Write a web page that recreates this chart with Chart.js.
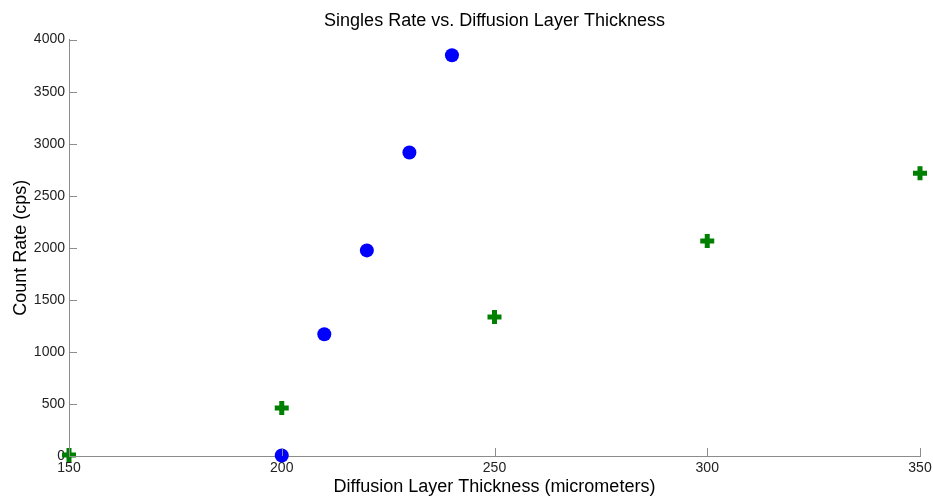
<!DOCTYPE html>
<html>
<head>
<meta charset="UTF-8" />
<title>Singles Rate vs. Diffusion Layer Thickness</title>
<script src="https://cdn.jsdelivr.net/npm/chart.js"></script>
<style>
  html, body { margin: 0; padding: 0; background: #fff; }
  #wrap { width: 933px; height: 496px; }
</style>
</head>
<body>
<div id="wrap"><canvas id="chart" width="933" height="496"></canvas></div>
<script>
// series
var circleX = [200, 210, 220, 230, 240];
var circleY = [5, 1170, 1975, 2915, 3850];
var plusX = [150, 200, 250, 300, 350];
var plusY = [10, 460, 1335, 2065, 2715];

var xTicks = [150, 200, 250, 300, 350];
var yTicks = [0, 500, 1000, 1500, 2000, 2500, 3000, 3500, 4000];

var FONT = "Arial, 'Liberation Sans', Helvetica, sans-serif";
var AXIS = "#8c8c8c";

function toPoints(xs, ys) {
  return xs.map(function (x, i) { return { x: x, y: ys[i] }; });
}

// short tick marks drawn inward, like the original plot
var innerTicks = {
  id: "innerTicks",
  afterDatasetsDraw: function (chart) {
    var ctx = chart.ctx, a = chart.chartArea;
    var xs = chart.scales.x, ys = chart.scales.y;
    ctx.save();
    ctx.strokeStyle = AXIS;
    ctx.lineWidth = 1;
    ctx.beginPath();
    xTicks.forEach(function (v) {
      var px = Math.round(xs.getPixelForValue(v)) + 0.5;
      ctx.moveTo(px, a.bottom);
      ctx.lineTo(px, a.bottom - 8);
    });
    yTicks.forEach(function (v) {
      var py = Math.round(ys.getPixelForValue(v)) + 0.5;
      ctx.moveTo(a.left, py);
      ctx.lineTo(a.left + 8, py);
    });
    ctx.stroke();
    ctx.restore();
  }
};

new Chart(document.getElementById("chart").getContext("2d"), {
  type: "scatter",
  data: {
    datasets: [
      {
        label: "circles",
        data: toPoints(circleX, circleY),
        pointStyle: "circle",
        pointRadius: 7,
        backgroundColor: "#0000ff",
        borderColor: "#0000ff",
        borderWidth: 0,
        clip: false
      },
      {
        label: "plus",
        data: toPoints(plusX, plusY),
        pointStyle: "cross",
        pointRadius: 7,
        borderColor: "#008000",
        backgroundColor: "#008000",
        borderWidth: 5,
        clip: false
      }
    ]
  },
  options: {
    responsive: false,
    animation: false,
    layout: { padding: 0 },
    plugins: {
      legend: { display: false },
      tooltip: { enabled: false },
      title: {
        display: true,
        fullSize: false,
        text: "Singles Rate vs. Diffusion Layer Thickness",
        color: "#000",
        font: { family: FONT, size: 18, weight: "normal" },
        padding: { top: 10, bottom: 8 }
      }
    },
    scales: {
      x: {
        type: "linear",
        min: 150,
        max: 350,
        afterBuildTicks: function (s) { s.ticks = xTicks.map(function (v) { return { value: v }; }); },
        afterFit: function (s) { s.height = 40; s.paddingLeft = 0; s.paddingRight = 13; },
        grid: { display: false, drawTicks: false },
        border: { display: true, color: AXIS, width: 1 },
        ticks: {
          color: "#222", padding: 4, maxRotation: 0,
          font: { family: FONT, size: 14 },
          callback: function (v) { return String(v); }
        },
        title: {
          display: true,
          text: "Diffusion Layer Thickness (micrometers)",
          color: "#000",
          font: { family: FONT, size: 18, lineHeight: 1 },
          padding: { top: 0, bottom: 0 }
        }
      },
      y: {
        min: 0,
        max: 4000,
        afterBuildTicks: function (s) { s.ticks = yTicks.map(function (v) { return { value: v }; }); },
        afterFit: function (s) { s.width = 69; },
        grid: { display: false, drawTicks: false },
        border: { display: true, color: AXIS, width: 1 },
        ticks: {
          color: "#222", padding: 4,
          font: { family: FONT, size: 14 },
          callback: function (v) { return String(v); }
        },
        title: {
          display: true,
          text: "Count Rate (cps)",
          color: "#000",
          font: { family: FONT, size: 18 },
          padding: { top: 10, bottom: 0 }
        }
      }
    }
  },
  plugins: [innerTicks]
});
</script>
</body>
</html>
